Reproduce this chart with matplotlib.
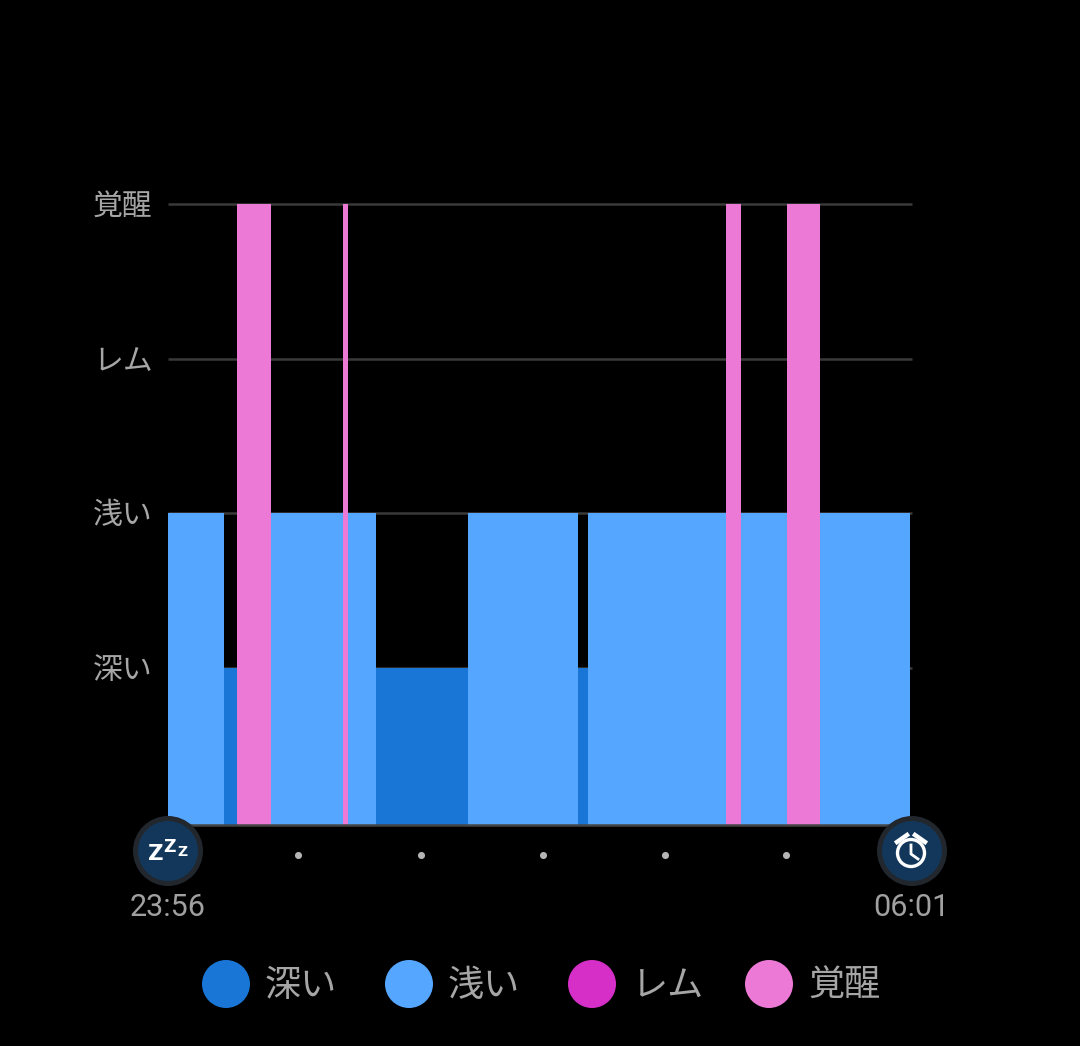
import matplotlib
matplotlib.use("Agg")
import matplotlib.pyplot as plt
from matplotlib.patches import Circle
from matplotlib.lines import Line2D

plt.rcParams['font.family'] = ['Noto Sans CJK JP', 'DejaVu Sans']

stage_names = ['深い', '浅い', 'レム', '覚醒']
stage_levels = [1, 2, 3, 4]
stage_colors = ['#1976d6', '#55a6ff', '#d62fc8', '#ec79d6']
segment_stage = ['浅い', '深い', '覚醒', '浅い', '覚醒', '浅い', '深い', '浅い',
                 '深い', '浅い', '覚醒', '浅い', '覚醒', '浅い']
segment_minutes = [27.5, 6.4, 16.7, 35.4, 2.5, 13.5, 45.2, 54.0, 4.9, 67.8, 7.4, 22.6, 16.2, 43.8]
hour_ticks = [64, 124, 184, 244, 303]
start_label = '23:56'
end_label = '06:01'
total_minutes = 365

W, H = 1080, 1046
fig = plt.figure(figsize=(W / 100, H / 100), dpi=100, facecolor='black')
L, R, T, B = 168, 912, 204, 825
ax = fig.add_axes([L / W, 1 - B / H, (R - L) / W, (B - T) / H], facecolor='black')
ax.set_xlim(0, total_minutes)
ax.set_ylim(-0.015, 4)
for s in ax.spines.values():
    s.set_visible(False)
ax.tick_params(length=0)
ax.set_xticks([])
ax.set_yticks(stage_levels)
ax.set_yticklabels(stage_names, fontsize=21.5, color='#a6a6a6', va='center')
ax.tick_params(axis='y', pad=11)
for lab in ax.get_yticklabels():
    lab.set_y(lab.get_position()[1])
for lv in stage_levels:
    ax.axhline(lv, color='#3a3a3a', lw=1.8, zorder=1, clip_on=False, solid_capstyle='butt')

level = dict(zip(stage_names, stage_levels))
color = dict(zip(stage_names, stage_colors))
zorder = {'深い': 2, '浅い': 3, 'レム': 4, '覚醒': 4}
left = 0.0
for st, d in zip(segment_stage, segment_minutes):
    ax.bar(left, level[st] + 0.015 + 0.003 * (st == '浅い'), bottom=-0.015, width=d, align='edge',
           color=color[st], lw=0, zorder=zorder[st])
    left += d
ax.axhline(-0.012, color='#444444', lw=1.8, zorder=6, clip_on=False, solid_capstyle='butt')

# hour markers below the axis
ax.scatter(hour_ticks, [-0.21] * len(hour_ticks), s=26, color='#b4b4b4', lw=0,
           clip_on=False, zorder=6)

# overlay in pixel coordinates for badges, times and legend
ov = fig.add_axes([0, 0, 1, 1], facecolor='none')
ov.set_xlim(0, W)
ov.set_ylim(H, 0)
ov.axis('off')


def badge(x, y):
    ov.add_patch(Circle((x, y), 35, fc='#22272d', ec='none', zorder=7))
    ov.add_patch(Circle((x, y), 30, fc='#12375a', ec='none', zorder=8))


badge(168, 851)
badge(912, 851)
for x, y, fs, ch in [(156, 854, 15.5, 'Z'), (170, 847, 12.5, 'Z'), (182, 852, 10, 'Z')]:
    ov.text(x, y, ch, color='white', fontsize=fs, fontweight='bold',
            family='DejaVu Sans', ha='center', va='center', zorder=9)

# alarm clock
cx, cy = 911, 853
ov.add_patch(Circle((cx, cy), 13.5, fc='none', ec='white', lw=2.4, zorder=9))
ov.add_line(Line2D([cx, cx, cx + 7], [cy - 8, cy + 1, cy + 6], color='white', lw=2.0, zorder=9))
ov.add_line(Line2D([cx - 14, cx - 4], [cy - 11, cy - 18], color='white', lw=3.2, zorder=9))
ov.add_line(Line2D([cx + 14, cx + 4], [cy - 11, cy - 18], color='white', lw=3.2, zorder=9))

ov.text(168, 908, start_label, color='#a0a0a0', fontsize=22, family='Roboto', ha='center', va='center', zorder=9)
ov.text(911, 908, end_label, color='#a0a0a0', fontsize=22, family='Roboto', ha='center', va='center', zorder=9)

# legend
legend_cx = [226, 409, 592, 769]
legend_tx = [265, 448, 632, 808]
for n, c, cxp, tx in zip(stage_names, stage_colors, legend_cx, legend_tx):
    ov.add_patch(Circle((cxp, 984), 24, fc=c, ec='none'))
    ov.text(tx, 986, n, color='#a6a6a6', fontsize=26, ha='left', va='center')

fig.canvas.draw()
offset = matplotlib.transforms.ScaledTranslation(0, -2.5 / 100, fig.dpi_scale_trans)
for lab in ax.get_yticklabels():
    lab.set_transform(lab.get_transform() + offset)

fig.savefig('out.png', dpi=100, facecolor='black')
